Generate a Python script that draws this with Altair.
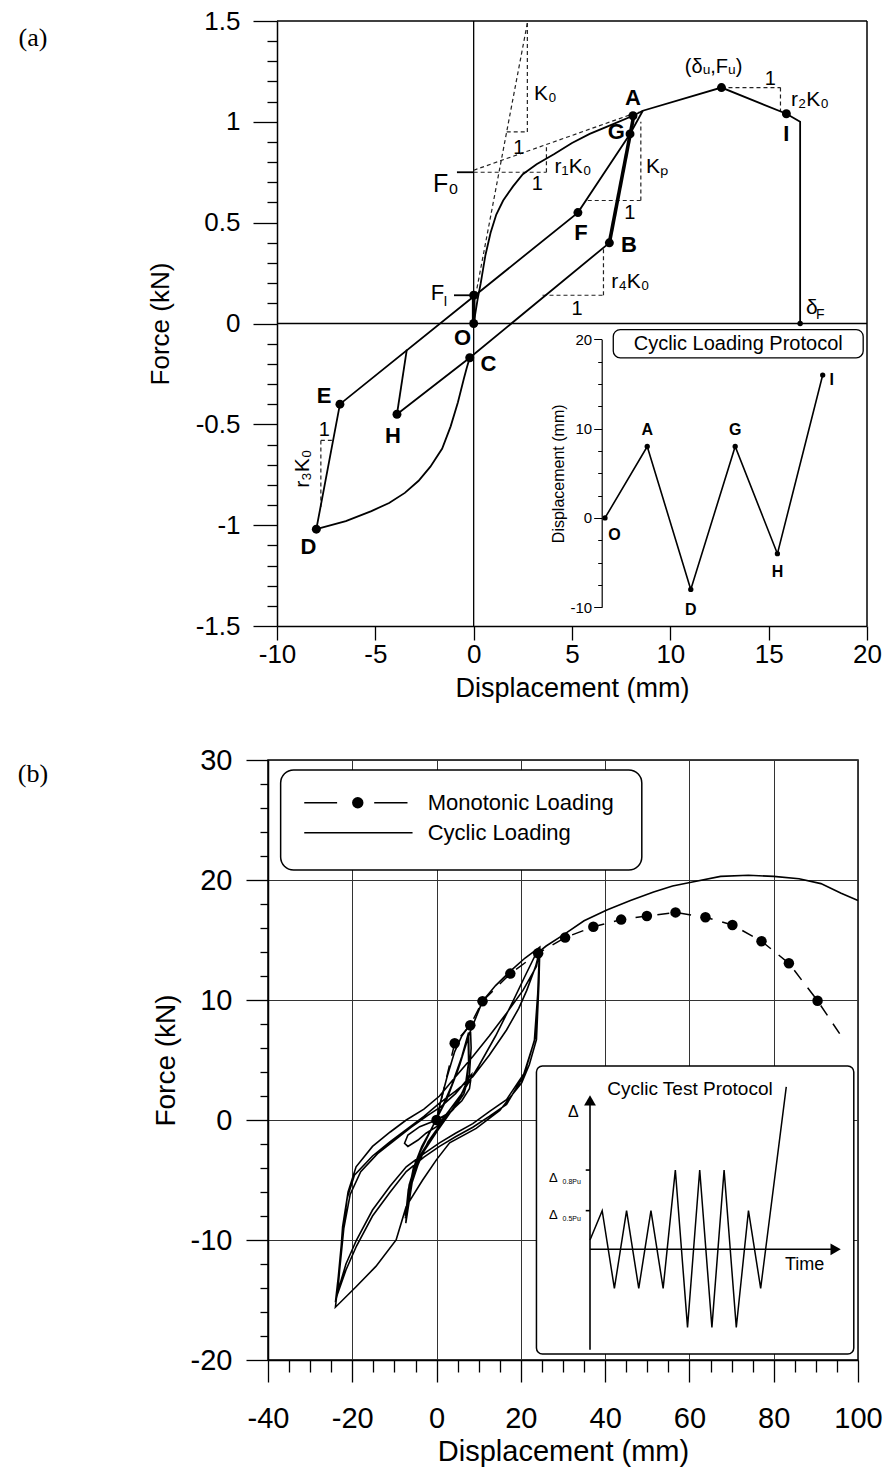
import altair as alt
import pandas as pd

FONT = "Liberation Sans"

# ================= Panel (a): hysteresis model =================
backbone_d = [0, 0.2, 0.36, 0.6, 0.86, 1.15, 1.5, 2.0, 2.5, 3.2, 4.1, 5.0, 5.9, 7.0, 8.1, 8.6, 12.6, 15.9, 16.6, 16.6]
backbone_f = [0, 0.12, 0.2, 0.34, 0.45, 0.54, 0.61, 0.68, 0.74, 0.79, 0.84, 0.895, 0.94, 0.985, 1.03, 1.055, 1.17, 1.04, 1.0, 0]
bch_d = [6.9, -0.2, -3.9]
bch_f = [0.40, -0.17, -0.45]
cd_d = [-0.2, -0.35, -0.49, -0.8, -1.17, -1.6, -2.2, -2.8, -3.5, -4.3, -5.2, -6.5, -8.0]
cd_f = [-0.17, -0.22, -0.27, -0.39, -0.51, -0.62, -0.71, -0.78, -0.84, -0.89, -0.93, -0.98, -1.02]
dg_d = [-8.0, -6.8, 5.3, 7.95, 8.6]
dg_f = [-1.02, -0.40, 0.55, 0.94, 1.055]
hr_d = [-3.9, -3.4]
hr_f = [-0.45, -0.13]
f0_tick_d = [-0.85, 0.0]
f0_tick_f = [0.75, 0.75]
fi_tick_d = [-1.0, -0.15]
fi_tick_f = [0.14, 0.14]
of_d = [0, 0]
of_f = [0, 0.14]
ba_d = [6.9, 8.15]
ba_f = [0.40, 1.035]
frame_names = ["top", "right"]
frame_d = [[-10, 20], [20, 20]]
frame_f = [[1.5, 1.5], [-1.5, 1.5]]

dash_names = ["k0", "k0h", "k0v", "f0", "r1", "r1v", "kph", "kpv", "r4h", "r4v", "r2h", "r2v", "r3v", "r3h"]
dash_d = [[0.1, 2.73], [1.68, 2.73], [2.73, 2.73], [0, 3.7], [0, 8.4], [3.7, 3.7], [5.8, 8.5], [8.5, 8.5],
          [3.5, 6.6], [6.6, 6.6], [12.6, 15.6], [15.6, 15.6], [-7.77, -7.77], [-7.77, -7.2]]
dash_f = [[0.14, 1.49], [0.95, 0.95], [0.95, 1.49], [0.75, 0.75], [0.76, 1.05], [0.75, 0.888], [0.61, 0.61], [0.61, 1.0],
          [0.14, 0.14], [0.14, 0.38], [1.17, 1.17], [1.17, 1.052], [-0.58, -0.91], [-0.58, -0.58]]

pt_d = [0, 0, 8.1, 7.95, 5.3, 6.9, -0.2, -6.8, -3.9, -8.0, 12.6, 15.9]
pt_f = [0, 0.14, 1.03, 0.94, 0.55, 0.40, -0.17, -0.40, -0.45, -1.02, 1.17, 1.04]
small_pt_d = [16.6]
small_pt_f = [0]

blab_t = ["A", "G", "F", "B", "I", "E", "H", "D", "O", "C"]
blab_d = [8.1, 7.25, 5.45, 7.9, 15.9, -7.6, -4.1, -8.4, -0.57, 0.75]
blab_f = [1.12, 0.95, 0.45, 0.39, 0.94, -0.36, -0.56, -1.11, -0.07, -0.2]

rlab_t = ["K₀", "1", "F₀", "1", "r₁K₀", "Kₚ", "1", "r₄K₀", "1", "1", "r₂K₀", "δ", "F", "(δᵤ,Fᵤ)", "F", "I", "1"]
rlab_d = [3.65, 2.3, -1.42, 3.23, 5.05, 9.32, 7.94, 7.97, 5.26, 15.08, 17.1, 17.2, 17.62, 12.2, -1.84, -1.43, -7.6]
rlab_f = [1.14, 0.87, 0.69, 0.69, 0.775, 0.775, 0.55, 0.205, 0.073, 1.21, 1.11, 0.075, 0.04, 1.27, 0.15, 0.105, -0.53]
rlab_s = [21, 20, 25, 20, 21, 21, 20, 21, 20, 20, 21, 21, 14, 20, 22, 14, 20]

rot_t = ["r₃K₀"]
rot_d = [-8.7]
rot_f = [-0.72]

panel_a_t = ["(a)"]
panel_a_d = [-22.41]
panel_a_f = [1.418]

xa_ticks = [-10, -5, 0, 5, 10, 15, 20]
ya_ticks = [round(-1.5 + 0.1 * k, 1) for k in range(31)]

prot_t = [0, 0.97, 1.97, 2.99, 3.96, 5.0]
prot_v = [0, 8, -8, 8, -4, 16]
plab_t = ["O", "A", "D", "G", "H", "I"]
plab_x = [0.22, 0.97, 1.97, 2.99, 3.96, 5.21]
plab_v = [-1.9, 9.8, -10.3, 9.8, -6.1, 15.4]
ins_ticks = [-10, -7.5, -5, -2.5, 0, 2.5, 5, 7.5, 10, 12.5, 15, 17.5, 20]
ins_box = {"t0": [0.19], "t1": [5.93], "v0": [21.09], "v1": [17.92]}
ins_title = ["Cyclic Loading Protocol"]

# ================= Panel (b): test results =================
cyc_d = [0, 1, 2.5, 4.3, 6, 8.0,
         8.2, 7.8, 6.5, 4, 1.5, 0, -2, -4, -5.8, -7.3,
         -6.8, -5.5, -3.5, -1, 1, 3.5, 6, 7.6,
         7.7, 7.2, 5.5, 3, 0, -3, -5.5, -7.4,
         -6.7, -5, -2.5, 0, 2.5, 5.2, 7.5,
         7.6, 6.8, 4.5, 2, -1, -4, -6, -7.4,
         -6.5, -4.5, -2, 0.5, 3, 5.5, 7.8,
         10.9, 14, 17.5, 21, 24.5,
         24.3, 23.7, 22, 20.2, 15, 9.4, 3.1, 0, -3.3, -7.2, -9.6, -14.4, -19.1, -24.0,
         -23.5, -23.1, -22.3, -21, -19.1, -15.2, -11, -7.2, -3, 0.7, 4.5, 8.6, 12.5, 16.6, 20.5, 23.7, 24.5,
         24.2, 23.5, 21, 16.6, 12.5, 8.6, 4.5, 0.7, -3, -7.2, -11, -15.2, -19, -21.5, -23.1, -24,
         -23.3, -22.5, -21.2, -19.5, -15.2, -11, -7.2, -3, 0.7, 4.5, 8.6, 12.5, 16.6, 19.5, 21.4, 23.5, 24.4,
         24.0, 23.2, 20.5, 16.6, 12.5, 8.6, 4.5, 0.7, -3, -7.2, -11, -15.2, -19, -21.5, -23.5,
         -23, -22, -20.5, -18, -14, -10, -6, -2, 1, 4.5, 8.3,
         7.8, 6, 3, 0, -4.0, -6.8, -7.6, -6.8, -4.4, -2.5, 0,
         3, 6, 10, 14, 18, 21, 23.5, 26, 30, 35, 40.4, 46, 51.5, 56, 61, 67.4, 74, 80, 86, 91.2, 96, 100]
cyc_f = [0, 1.6, 3.6, 5.7, 7.0, 8.0,
         6.0, 3.8, 2.2, 0.9, 0.0, -0.8, -1.8, -3.3, -5.2, -8.6,
         -6.3, -4.0, -2.2, -0.6, 0.8, 2.8, 5.3, 7.3,
         5.2, 3.2, 1.8, 0.5, -1.0, -2.6, -4.6, -8.2,
         -5.8, -3.5, -1.6, 0.1, 1.8, 4.3, 7.0,
         4.8, 2.8, 1.2, 0.1, -1.3, -3.0, -5.0, -8.0,
         -5.4, -3.1, -1.3, 0.5, 2.3, 4.6, 7.2,
         9.9, 11.2, 12.4, 13.5, 14.4,
         11.5, 6.7, 4.6, 3.1, 0.8, -0.7, -1.9, -3.3, -5.0, -7.2, -10.0, -12.2, -13.9, -15.6,
         -14.0, -12.8, -8.9, -6.0, -3.9, -2.2, -1.0, 0.0, 0.9, 2.0, 3.6, 5.3, 7.0, 8.9, 10.8, 12.8, 14.2,
         11.0, 7.0, 4.0, 1.7, 0.7, -0.3, -1.1, -1.9, -2.8, -3.9, -5.5, -7.5, -10.0, -12.0, -13.9, -15.2,
         -13.0, -10.0, -6.5, -4.6, -3.0, -1.8, -0.8, 0.3, 1.4, 2.4, 3.6, 5.4, 7.5, 9.3, 10.8, 12.8, 14.0,
         10.5, 6.6, 3.6, 1.3, 0.3, -0.6, -1.4, -2.2, -3.1, -4.3, -6.0, -8.0, -10.5, -12.5, -14.5,
         -12.5, -9.0, -6.2, -4.3, -2.8, -1.7, -0.6, 0.4, 1.1, 2.2, 3.8,
         2.6, 1.6, 0.6, 0, -0.56, -1.25, -1.94, -2.2, -1.67, -1.1, -0.56,
         0.8, 2.2, 4.5, 7.0, 9.8, 12.0, 13.8, 14.5, 15.4, 16.6, 17.5, 18.3, 19.0, 19.5, 19.86, 20.3, 20.4, 20.3, 20.1, 19.7, 18.9, 18.3]

mono_d = [0, 4.3, 8.0, 10.9, 17.5, 24.1, 30.5, 37.2, 43.8, 49.9, 56.7, 63.8, 70.2, 77.1, 83.6, 90.4]
mono_f = [0, 6.4, 7.9, 9.9, 12.2, 13.9, 15.2, 16.1, 16.7, 17.0, 17.3, 16.9, 16.25, 14.9, 13.06, 9.94]
mono_tail_d = [96.2]
mono_tail_f = [6.9]

xb_ticks = list(range(-40, 101, 5))
yb_ticks = list(range(-20, 31, 2))

leg_box = {"d": [-37], "d2": [48.7], "f": [29.17], "f2": [20.83]}
inset_box_b = {"d": [23.7], "d2": [99.0], "f": [4.5], "f2": [-19.5]}
leg_line_names = ["m1", "m2", "c"]
leg_line_d = [[-31.4, -23.6], [-14.8, -6.9], [-31.4, -5.7]]
leg_line_f = [[26.44, 26.44], [26.44, 26.44], [23.94, 23.94]]
leg_dot_d = [-18.7]
leg_dot_f = [26.44]
leg_text = ["Monotonic Loading", "Cyclic Loading"]
leg_text_d = [-2.1, -2.1]
leg_text_f = [26.44, 23.94]
panel_b_t = ["(b)"]
panel_b_d = [-95.76]
panel_b_f = [28.83]

ctp_t = [0, 1, 2, 3, 4, 5, 6, 7, 8, 9, 10, 11, 12, 13, 14, 16.1]
ctp_a = [0.24, 1.0, -1.01, 1.0, -1.01, 1.0, -1.01, 2.05, -2.02, 2.05, -2.02, 2.05, -2.02, 1.0, -1.01, 4.2]
arrow_names = ["vert", "horiz", "lev1", "lev2"]
arrow_t = [[0, 0], [0, 19.9], [-0.35, 0], [-0.35, 0]]
arrow_a = [[-2.6, 3.8], [0, 0], [2.05, 2.05], [1.0, 1.0]]
head_shape = ["triangle-up", "triangle-right"]
head_t = [0, 20.15]
head_a = [3.85, 0]
ctp_lab = ["Cyclic Test Protocol", "Time", "Δ", "Δ", "Δ", "0.8Pu", "0.5Pu"]
ctp_lab_t = [8.2, 17.6, -1.37, -3.0, -3.0, -1.5, -1.5]
ctp_lab_a = [4.14, -0.4, 3.56, 1.84, 0.89, 1.74, 0.79]
ctp_lab_s = [19, 18, 16, 13, 13, 7, 7]


def seg_frame(names, xs, ys, xk="d", yk="f"):
    rows = []
    for n, xx, yy in zip(names, xs, ys):
        for i, (x, y) in enumerate(zip(xx, yy)):
            rows.append({"seg": n, "i": i, xk: x, yk: y})
    return pd.DataFrame(rows)


AX = dict(domainColor="black", tickColor="black", labelColor="black", titleColor="black",
          labelFont=FONT, titleFont=FONT, titleFontWeight="normal", labelFontWeight="normal",
          labelFlush=False, labelOverlap=False)

# ---------------- Panel (a) ----------------
X_A = alt.X("d:Q", scale=alt.Scale(domain=[-10, 20], range=[9, 599], nice=False, zero=False),
            axis=alt.Axis(values=xa_ticks, title="Displacement (mm)", labelExpr="datum.value + ''",
                          tickSize=14, labelPadding=1, labelFontSize=26, titleFontSize=27,
                          titlePadding=8, grid=False, domainWidth=1.5, tickWidth=1.3, **AX))
Y_A = alt.Y("f:Q", scale=alt.Scale(domain=[-1.5, 1.5], nice=False, zero=False),
            axis=alt.Axis(values=ya_ticks, title="Force (kN)", offset=-9,
                          labelExpr="abs(datum.value*2 - round(datum.value*2)) < 0.001 ? datum.value + '' : ''",
                          tickSize={"condition": {"test": "abs(datum.value*2 - round(datum.value*2)) < 0.001", "value": 24}, "value": 10},
                          labelPadding=13, labelFontSize=26, titleFontSize=26, titlePadding=22,
                          grid=False, domainWidth=1.5, tickWidth=1.3, **AX))

solid_a = seg_frame(["bb", "bch", "cd", "dg", "hr", "f0t", "fit"],
                    [backbone_d, bch_d, cd_d, dg_d, hr_d, f0_tick_d, fi_tick_d],
                    [backbone_f, bch_f, cd_f, dg_f, hr_f, f0_tick_f, fi_tick_f])
thick_a = seg_frame(["of", "ba"], [of_d, ba_d], [of_f, ba_f])
dash_a = seg_frame(dash_names, dash_d, dash_f)
frame_a = seg_frame(frame_names, frame_d, frame_f)

zero_lines = seg_frame(["h", "v"], [[-10, 20], [0, 0]], [[0, 0], [-1.5, 1.5]])
l_zero = alt.Chart(zero_lines).mark_line(color="black", strokeWidth=1.3).encode(
    x=X_A, y=Y_A, detail="seg:N", order="i:Q")
l_frame = alt.Chart(frame_a).mark_line(color="black", strokeWidth=1.5).encode(
    x=X_A, y=Y_A, detail="seg:N", order="i:Q")
l_solid = alt.Chart(solid_a).mark_line(color="black", strokeWidth=1.8).encode(
    x=X_A, y=Y_A, detail="seg:N", order="i:Q")
l_thick = alt.Chart(thick_a).mark_line(color="black", strokeWidth=3.6).encode(
    x=X_A, y=Y_A, detail="seg:N", order="i:Q")
l_dash = alt.Chart(dash_a).mark_line(color="#222", strokeWidth=1.2, strokeDash=[4, 3]).encode(
    x=X_A, y=Y_A, detail="seg:N", order="i:Q")
dots_a = alt.Chart(pd.DataFrame({"d": pt_d, "f": pt_f})).mark_circle(color="black", size=80, opacity=1).encode(
    x=X_A, y=Y_A)
sdots_a = alt.Chart(pd.DataFrame({"d": small_pt_d, "f": small_pt_f})).mark_circle(color="black", size=30, opacity=1).encode(
    x=X_A, y=Y_A)
blab_a = alt.Chart(pd.DataFrame({"d": blab_d, "f": blab_f, "t": blab_t})).mark_text(
    font=FONT, fontSize=22, fontWeight="bold", color="black").encode(x=X_A, y=Y_A, text="t:N")
rlab_a = alt.Chart(pd.DataFrame({"d": rlab_d, "f": rlab_f, "t": rlab_t, "s": rlab_s})).mark_text(
    font=FONT, color="black").encode(x=X_A, y=Y_A, text="t:N", size=alt.Size("s:Q", scale=None))
rot_a = alt.Chart(pd.DataFrame({"d": rot_d, "f": rot_f, "t": rot_t})).mark_text(
    font=FONT, fontSize=21, angle=270, color="black").encode(x=X_A, y=Y_A, text="t:N")
plab_a = alt.Chart(pd.DataFrame({"d": panel_a_d, "f": panel_a_f, "t": panel_a_t})).mark_text(
    font="Liberation Serif", fontSize=26, color="black").encode(x=X_A, y=Y_A, text="t:N")

main_a = alt.layer(l_zero, l_frame, l_dash, l_solid, l_thick, dots_a, sdots_a, blab_a, rlab_a, rot_a, plab_a)

X_IA = alt.X("t:Q", scale=alt.Scale(domain=[0, 5], range=[337, 554.7], nice=False, zero=False), axis=None)
Y_IA = alt.Y("v:Q", scale=alt.Scale(domain=[-10, 20], range=[586.3, 318.3], nice=False, zero=False),
             axis=alt.Axis(orient="left", offset=-333.7, values=ins_ticks, title="Displacement (mm)",
                           labelExpr="datum.value % 10 == 0 ? datum.value + '' : ''",
                           tickSize={"condition": {"test": "datum.value % 10 == 0", "value": 8}, "value": 4},
                           labelFontSize=15, titleFontSize=16, labelPadding=2, titlePadding=4,
                           grid=False, domainWidth=1.2, tickWidth=1, **AX))
prot_line = alt.Chart(pd.DataFrame({"t": prot_t, "v": prot_v})).mark_line(color="black", strokeWidth=1.6).encode(
    x=X_IA, y=Y_IA)
prot_pts = alt.Chart(pd.DataFrame({"t": prot_t, "v": prot_v})).mark_circle(color="black", size=28, opacity=1).encode(
    x=X_IA, y=Y_IA)
prot_lab = alt.Chart(pd.DataFrame({"t": plab_x, "v": plab_v, "s": plab_t})).mark_text(
    font=FONT, fontSize=16, fontWeight="bold", color="black").encode(x=X_IA, y=Y_IA, text="s:N")
ins_box_df = pd.DataFrame({"t": ins_box["t0"], "t2": ins_box["t1"], "v": ins_box["v0"], "v2": ins_box["v1"]})
prot_box = alt.Chart(ins_box_df).mark_rect(fill="white", stroke="black", strokeWidth=1.3, cornerRadius=7).encode(
    x=X_IA, x2="t2:Q", y=Y_IA, y2="v2:Q")
prot_box_t = alt.Chart(pd.DataFrame({"t": [(ins_box["t0"][0] + ins_box["t1"][0]) / 2],
                                     "v": [(ins_box["v0"][0] + ins_box["v1"][0]) / 2],
                                     "s": ins_title})).mark_text(
    font=FONT, fontSize=20, color="black").encode(x=X_IA, y=Y_IA, text="s:N")
inset_a = alt.layer(prot_line, prot_pts, prot_lab, prot_box, prot_box_t)

panel_a = alt.layer(main_a, inset_a).resolve_scale(x="independent", y="independent").properties(
    width=608, height=605, view=alt.ViewBackground(strokeOpacity=0, stroke="transparent"))

# ---------------- Panel (b) ----------------
X_B = alt.X("d:Q", scale=alt.Scale(domain=[-40, 100], range=[0, 590], nice=False, zero=False),
            axis=alt.Axis(values=xb_ticks, title="Displacement (mm)",
                          labelExpr="datum.value % 20 == 0 ? datum.value + '' : ''",
                          tickSize={"condition": {"test": "datum.value % 20 == 0", "value": 22}, "value": 12},
                          grid=True, gridColor="#333", gridWidth=1,
                          gridOpacity={"condition": {"test": "datum.value % 20 == 0", "value": 1}, "value": 0},
                          labelPadding=22, labelFontSize=29, titleFontSize=29, titlePadding=4,
                          domainWidth=1.5, tickWidth=1.3, **AX))
Y_B = alt.Y("f:Q", scale=alt.Scale(domain=[-20, 30], nice=False, zero=False),
            axis=alt.Axis(values=yb_ticks, title="Force (kN)",
                          labelExpr="datum.value % 10 == 0 ? datum.value + '' : ''",
                          tickSize={"condition": {"test": "datum.value % 10 == 0", "value": 22}, "value": 8},
                          grid=True, gridColor="#333", gridWidth=1,
                          gridOpacity={"condition": {"test": "datum.value % 10 == 0", "value": 1}, "value": 0},
                          labelPadding=14, labelFontSize=29, titleFontSize=28, titlePadding=10,
                          domainWidth=1.5, tickWidth=1.3, **AX))

cyc_df = pd.DataFrame({"d": cyc_d, "f": cyc_f, "i": list(range(len(cyc_d)))})
mono_line_df = pd.DataFrame({"d": mono_d + mono_tail_d, "f": mono_f + mono_tail_f,
                             "i": list(range(len(mono_d) + len(mono_tail_d)))})
mono_pt_df = pd.DataFrame({"d": mono_d, "f": mono_f})

b_legbox = alt.Chart(pd.DataFrame(leg_box)).mark_rect(fill="white", stroke="black", strokeWidth=1.5, cornerRadius=13).encode(
    x=X_B, x2="d2:Q", y=Y_B, y2="f2:Q")
b_insbox = alt.Chart(pd.DataFrame(inset_box_b)).mark_rect(fill="white", stroke="black", strokeWidth=1.5, cornerRadius=6).encode(
    x=X_B, x2="d2:Q", y=Y_B, y2="f2:Q")
b_cyc = alt.Chart(cyc_df).mark_line(color="black", strokeWidth=1.6).encode(x=X_B, y=Y_B, order="i:Q")
b_mono = alt.Chart(mono_line_df).mark_line(color="black", strokeWidth=1.5, strokeDash=[12, 10]).encode(
    x=X_B, y=Y_B, order="i:Q")
b_mono_pts = alt.Chart(mono_pt_df).mark_circle(color="black", size=110, opacity=1).encode(x=X_B, y=Y_B)
b_leg_lines = alt.Chart(seg_frame(leg_line_names, leg_line_d, leg_line_f)).mark_line(
    color="black", strokeWidth=1.5).encode(x=X_B, y=Y_B, detail="seg:N", order="i:Q")
b_leg_dot = alt.Chart(pd.DataFrame({"d": leg_dot_d, "f": leg_dot_f})).mark_circle(
    color="black", size=130, opacity=1).encode(x=X_B, y=Y_B)
b_leg_text = alt.Chart(pd.DataFrame({"d": leg_text_d, "f": leg_text_f, "t": leg_text})).mark_text(
    font=FONT, fontSize=22, align="left", color="black").encode(x=X_B, y=Y_B, text="t:N")
b_plab = alt.Chart(pd.DataFrame({"d": panel_b_d, "f": panel_b_f, "t": panel_b_t})).mark_text(
    font="Liberation Serif", fontSize=26, color="black").encode(x=X_B, y=Y_B, text="t:N")

main_b = alt.layer(b_legbox, b_insbox, b_cyc, b_mono, b_mono_pts, b_leg_lines, b_leg_dot, b_leg_text, b_plab)

X_IB = alt.X("t:Q", scale=alt.Scale(domain=[0, 21], range=[322, 578], nice=False, zero=False), axis=None)
Y_IB = alt.Y("a:Q", scale=alt.Scale(domain=[-3, 5], range=[605.3, 296], nice=False, zero=False), axis=None)
ctp_line = alt.Chart(pd.DataFrame({"t": ctp_t, "a": ctp_a, "i": list(range(len(ctp_t)))})).mark_line(
    color="black", strokeWidth=1.5).encode(x=X_IB, y=Y_IB, order="i:Q")
ctp_arrows = alt.Chart(seg_frame(arrow_names, arrow_t, arrow_a, xk="t", yk="a")).mark_line(
    color="black", strokeWidth=1.6).encode(x=X_IB, y=Y_IB, detail="seg:N", order="i:Q")
ctp_heads = alt.Chart(pd.DataFrame({"t": head_t, "a": head_a, "s": head_shape})).mark_point(
    filled=True, color="black", size=140, opacity=1).encode(
    x=X_IB, y=Y_IB, shape=alt.Shape("s:N", scale=None))
ctp_text = alt.Chart(pd.DataFrame({"t": ctp_lab_t, "a": ctp_lab_a, "s": ctp_lab, "z": ctp_lab_s})).mark_text(
    font=FONT, color="black").encode(x=X_IB, y=Y_IB, text="s:N", size=alt.Size("z:Q", scale=None))
inset_b = alt.layer(ctp_line, ctp_arrows, ctp_heads, ctp_text)

panel_b = alt.layer(main_b, inset_b).resolve_scale(x="independent", y="independent").properties(
    width=590, height=600, view=alt.ViewBackground(stroke="black", strokeWidth=1.5))

chart = alt.vconcat(panel_a, panel_b, spacing=44).properties(
    padding={"left": 17, "top": 8, "right": 5, "bottom": 5}, background="white"
).configure_view(stroke="black", strokeWidth=1.5)

chart.save("out.html", embed_options={"renderer": "svg", "actions": False})
